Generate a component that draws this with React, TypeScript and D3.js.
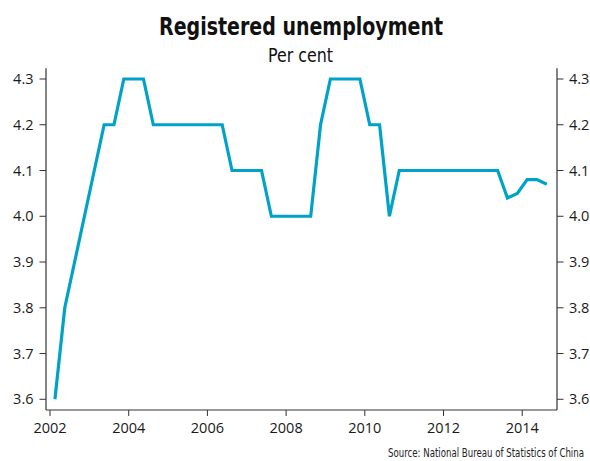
import React from "react";
import * as d3 from "d3";

const years = [2002, 2003, 2004, 2005, 2006, 2007, 2008, 2009, 2010, 2011, 2012, 2013, 2014];
const quarterlyRates: number[][] = [
  [3.6, 3.8, 3.9, 4.0],
  [4.1, 4.2, 4.2, 4.3],
  [4.3, 4.3, 4.2, 4.2],
  [4.2, 4.2, 4.2, 4.2],
  [4.2, 4.2, 4.1, 4.1],
  [4.1, 4.1, 4.0, 4.0],
  [4.0, 4.0, 4.0, 4.2],
  [4.3, 4.3, 4.3, 4.3],
  [4.2, 4.2, 4.0, 4.1],
  [4.1, 4.1, 4.1, 4.1],
  [4.1, 4.1, 4.1, 4.1],
  [4.1, 4.1, 4.04, 4.05],
  [4.08, 4.08, 4.07],
];
const xTickYears = [2002, 2004, 2006, 2008, 2010, 2012, 2014];
const yTickValues = [3.6, 3.7, 3.8, 3.9, 4.0, 4.1, 4.2, 4.3];
const title = "Registered unemployment";
const subtitle = "Per cent";
const source = "Source: National Bureau of Statistics of China";

const W = 590;
const H = 461;
const left = 46;
const right = 557;
const top = 68.3;
const bottom = 410;

type Pt = { t: number; v: number };
const points: Pt[] = [];
years.forEach((yr, i) => {
  quarterlyRates[i].forEach((v, q) => {
    points.push({ t: yr + q * 0.25 + 0.125, v });
  });
});

const x = d3.scaleLinear().domain([2001.898, 2014.884]).range([left, right]);
const y = d3.scaleLinear().domain([3.5766, 4.3234]).range([bottom, top]);

const line = d3
  .line<Pt>()
  .x((d) => x(d.t))
  .y((d) => y(d.v));

const tickFont = "'Open Sans', 'Noto Sans', sans-serif";
const condFont = "'Liberation Sans Narrow', 'DejaVu Sans Condensed', 'Roboto Condensed', sans-serif";

export default function App() {
  return (
    <svg width={W} height={H} style={{ position: "absolute", left: 0, top: 0, background: "#fff" }}>
      <rect x={0} y={0} width={W} height={H} fill="#fff" />
      <text
        x={301}
        y={35}
        textAnchor="middle"
        fontFamily={condFont}
        fontWeight={700}
        fontSize={25.5}
        fill="#111"
        textLength={284}
        lengthAdjust="spacingAndGlyphs"
      >
        {title}
      </text>
      <text
        x={300.5}
        y={61.5}
        textAnchor="middle"
        fontFamily={condFont}
        fontSize={20}
        fill="#111"
        textLength={65}
        lengthAdjust="spacingAndGlyphs"
      >
        {subtitle}
      </text>

      {/* axes */}
      <line x1={left} x2={left} y1={top} y2={bottom} stroke="#333" strokeWidth={1.2} />
      <line x1={right} x2={right} y1={top} y2={bottom} stroke="#333" strokeWidth={1.2} />
      <line x1={left} x2={right} y1={bottom} y2={bottom} stroke="#333" strokeWidth={1.2} />

      {yTickValues.map((v) => (
        <g key={"y" + v}>
          <line x1={left - 6.5} x2={left} y1={y(v)} y2={y(v)} stroke="#333" strokeWidth={1} />
          <line x1={right} x2={right + 6.5} y1={y(v)} y2={y(v)} stroke="#333" strokeWidth={1} />
          <text x={33.5} y={y(v)} dy="0.35em" textAnchor="end" fontFamily={tickFont} fontSize={14.5} fill="#1a1a1a">
            {v.toFixed(1)}
          </text>
          <text x={569} y={y(v)} dy="0.35em" textAnchor="start" fontFamily={tickFont} fontSize={14.5} fill="#1a1a1a">
            {v.toFixed(1)}
          </text>
        </g>
      ))}

      {xTickYears.map((yr) => (
        <g key={"x" + yr}>
          <line x1={x(yr)} x2={x(yr)} y1={bottom} y2={bottom + 6} stroke="#333" strokeWidth={1} />
          <text x={x(yr)} y={433} textAnchor="middle" fontFamily={tickFont} fontSize={14.5} fill="#1a1a1a">
            {yr}
          </text>
        </g>
      ))}

      <path d={line(points) || ""} fill="none" stroke="#00a3c7" strokeWidth={3.2} strokeLinejoin="miter" />

      <text
        x={584}
        y={457}
        textAnchor="end"
        fontFamily={condFont}
        fontSize={12}
        fill="#222"
        textLength={196}
        lengthAdjust="spacingAndGlyphs"
      >
        {source}
      </text>
    </svg>
  );
}
